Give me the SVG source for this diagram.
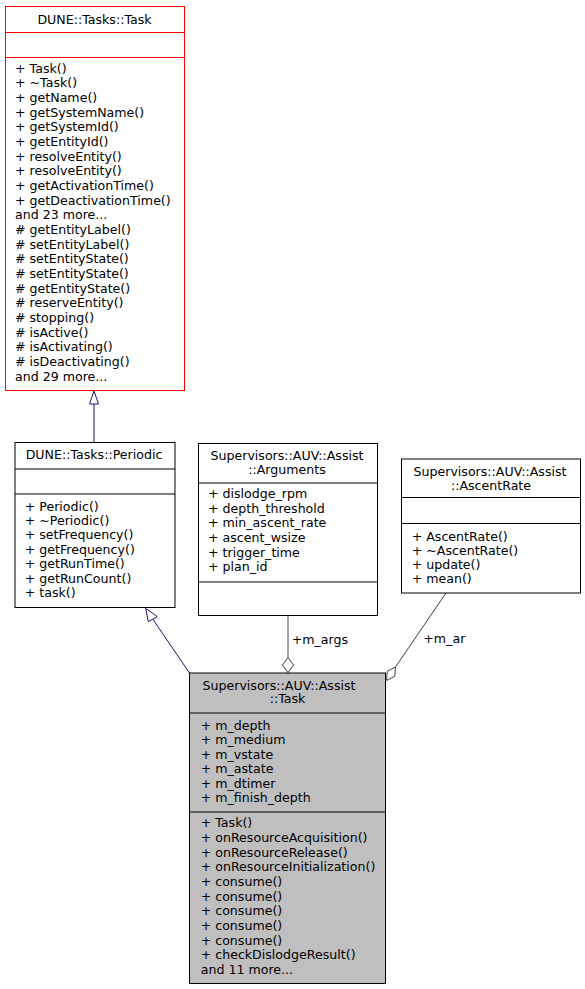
<svg xmlns="http://www.w3.org/2000/svg" width="585" height="989" viewBox="0 0 585 989">
<style>
text{font-family:"DejaVu Sans","Liberation Sans",sans-serif;font-size:12.6px;fill:#000}
.c{text-anchor:middle}
.box{fill:#fff;stroke:#000;stroke-width:1}
.red{fill:#fff;stroke:#ff0000;stroke-width:1}
.sel{fill:#bfbfbf;stroke:#000;stroke-width:1}
.sep{stroke:#000;stroke-width:1}
.rsep{stroke:#ff0000;stroke-width:1}
.inh{stroke:#191970;stroke-width:1;fill:none}
.inhh{stroke:#191970;stroke-width:1;fill:#fff}
.agg{stroke:#404040;stroke-width:1;fill:none}
.aggh{stroke:#404040;stroke-width:1;fill:#fff}
</style>
<g id="edges">
<line class="inh" x1="94" y1="442.5" x2="94" y2="404"/>
<polygon class="inhh" points="94,391 89.5,404 98.5,404"/>
<line class="inh" x1="189.5" y1="673" x2="152.8" y2="619.2"/>
<polygon class="inhh" points="145.7,608.3 148.3,621.7 157.3,616.7"/>
<line class="agg" x1="288" y1="615.5" x2="288" y2="657.5"/>
<polygon class="aggh" points="288,657.5 293.5,665 288,672.5 282.5,665"/>
<text x="291.7" y="643.5">+m_args</text>
<line class="agg" x1="446" y1="593" x2="395.5" y2="667"/>
<polygon class="aggh" points="395.5,667 394.7,676.3 386.5,680.5 387.3,671.3"/>
<text x="423.3" y="643">+m_ar</text>
</g>
<g id="node_task_base">
<rect class="red" x="5.5" y="6.5" width="179" height="384"/>
<line class="rsep" x1="5.5" y1="32.5" x2="184.5" y2="32.5"/>
<line class="rsep" x1="5.5" y1="57.5" x2="184.5" y2="57.5"/>
<text class="c" x="94.5" y="23.5">DUNE::Tasks::Task</text>
<text x="15" y="72.5">+ Task()</text>
<text x="15" y="87.2">+ ~Task()</text>
<text x="15" y="101.8">+ getName()</text>
<text x="15" y="116.5">+ getSystemName()</text>
<text x="15" y="131.2">+ getSystemId()</text>
<text x="15" y="145.9">+ getEntityId()</text>
<text x="15" y="160.5">+ resolveEntity()</text>
<text x="15" y="175.2">+ resolveEntity()</text>
<text x="15" y="189.9">+ getActivationTime()</text>
<text x="15" y="204.5">+ getDeactivationTime()</text>
<text x="15" y="219.2">and 23 more...</text>
<text x="15" y="233.9"># getEntityLabel()</text>
<text x="15" y="248.5"># setEntityLabel()</text>
<text x="15" y="263.2"># setEntityState()</text>
<text x="15" y="277.9"># setEntityState()</text>
<text x="15" y="292.6"># getEntityState()</text>
<text x="15" y="307.2"># reserveEntity()</text>
<text x="15" y="321.9"># stopping()</text>
<text x="15" y="336.6"># isActive()</text>
<text x="15" y="351.2"># isActivating()</text>
<text x="15" y="365.9"># isDeactivating()</text>
<text x="15" y="380.6">and 29 more...</text>
</g>
<g id="node_periodic">
<rect class="box" x="15" y="442.5" width="160" height="165"/>
<line class="sep" x1="15" y1="469" x2="175" y2="469"/>
<line class="sep" x1="15" y1="494" x2="175" y2="494"/>
<text class="c" x="94" y="458.5">DUNE::Tasks::Periodic</text>
<text x="24.7" y="510.5">+ Periodic()</text>
<text x="24.7" y="525">+ ~Periodic()</text>
<text x="24.7" y="539.4">+ setFrequency()</text>
<text x="24.7" y="553.9">+ getFrequency()</text>
<text x="24.7" y="568.3">+ getRunTime()</text>
<text x="24.7" y="582.8">+ getRunCount()</text>
<text x="24.7" y="597.2">+ task()</text>
</g>
<g id="node_arguments">
<rect class="box" x="198.5" y="443.5" width="179" height="172"/>
<line class="sep" x1="198.5" y1="483" x2="377.5" y2="483"/>
<line class="sep" x1="198.5" y1="582" x2="377.5" y2="582"/>
<text class="c" x="287" y="459.5">Supervisors::AUV::Assist</text>
<text class="c" x="287" y="474">::Arguments</text>
<text x="208" y="497.8">+ dislodge_rpm</text>
<text x="208" y="512.5">+ depth_threshold</text>
<text x="208" y="527.1">+ min_ascent_rate</text>
<text x="208" y="541.8">+ ascent_wsize</text>
<text x="208" y="556.5">+ trigger_time</text>
<text x="208" y="571.2">+ plan_id</text>
</g>
<g id="node_ascentrate">
<rect class="box" x="401.5" y="459" width="179" height="134"/>
<line class="sep" x1="401.5" y1="497.5" x2="580.5" y2="497.5"/>
<line class="sep" x1="401.5" y1="523.5" x2="580.5" y2="523.5"/>
<text class="c" x="490" y="475.5">Supervisors::AUV::Assist</text>
<text class="c" x="491" y="490">::AscentRate</text>
<text x="411.7" y="540.5">+ AscentRate()</text>
<text x="411.7" y="554.7">+ ~AscentRate()</text>
<text x="411.7" y="568.9">+ update()</text>
<text x="411.7" y="583.1">+ mean()</text>
</g>
<g id="node_assist_task">
<rect class="sel" x="189.5" y="673" width="196" height="310.5"/>
<line class="sep" x1="189.5" y1="713" x2="385.5" y2="713"/>
<line class="sep" x1="189.5" y1="812" x2="385.5" y2="812"/>
<text class="c" x="279" y="689.5">Supervisors::AUV::Assist</text>
<text class="c" x="287.5" y="702.8">::Task</text>
<text x="200.7" y="729.5">+ m_depth</text>
<text x="200.7" y="744">+ m_medium</text>
<text x="200.7" y="758.6">+ m_vstate</text>
<text x="200.7" y="773.1">+ m_astate</text>
<text x="200.7" y="787.7">+ m_dtimer</text>
<text x="200.7" y="802.2">+ m_finish_depth</text>
<text x="200.7" y="827.2">+ Task()</text>
<text x="200.7" y="841.9">+ onResourceAcquisition()</text>
<text x="200.7" y="856.5">+ onResourceRelease()</text>
<text x="200.7" y="871.2">+ onResourceInitialization()</text>
<text x="200.7" y="885.9">+ consume()</text>
<text x="200.7" y="900.5">+ consume()</text>
<text x="200.7" y="915.2">+ consume()</text>
<text x="200.7" y="929.9">+ consume()</text>
<text x="200.7" y="944.6">+ consume()</text>
<text x="200.7" y="959.2">+ checkDislodgeResult()</text>
<text x="200.7" y="973.9">and 11 more...</text>
</g>
</svg>
